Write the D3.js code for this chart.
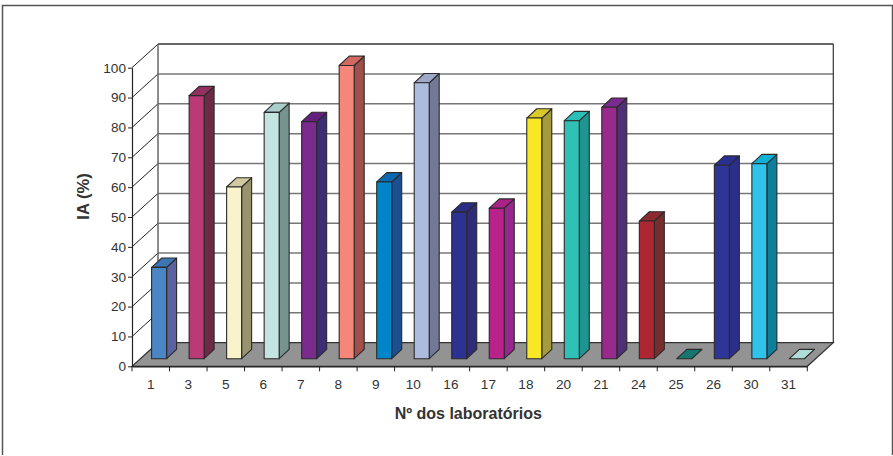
<!DOCTYPE html>
<html>
<head>
<meta charset="utf-8">
<script src="https://cdn.jsdelivr.net/npm/d3@7"></script>
<style>
html, body { margin: 0; padding: 0; background: #fff; }
svg { display: block; }
text { font-family: "Liberation Sans", Arial, sans-serif; fill: #333; }
</style>
</head>
<body>
<div id="demo"></div>
<script>
var labs = ['1','3','5','6','7','8','9','10','16','17','18','20','21','24','25','26','30','31'];
var iaValues = [30.6,88.1,57.5,82.5,79.4,98.2,59.2,92.4,49.1,50.4,80.6,79.7,84.2,46.1,0,64.8,65.3,0];
var yTicks = [0,10,20,30,40,50,60,70,80,90,100];

var frontColors = ['#4a86c6','#b93a75','#f9f3cb','#c3e4e1','#7b2a8e','#f6857a','#0085c8','#adbcdc','#2d3191','#b9218b','#f9e726','#2fc0b6','#982a8e','#ae2631','#16756f','#2d3696','#2fc2ea','#b0dcd8'];
var sideColors = ['#5a62a0','#6c2b45','#98926f','#76938f','#3c2d75','#a14f4b','#1b4f8f','#727996','#2f2d7a','#96278f','#a39b3c','#1e9590','#512f78','#772d30','#16756f','#2c2e8c','#0c7f9c','#b0dcd8'];
var topColors = ['#3f74b5','#94305f','#d1c99f','#a8cfcb','#662180','#d2685f','#0a68b0','#a0a8c8','#2b2d85','#a82288','#d9c92a','#2abfb8','#7a2a90','#8c2a30','#16756f','#2a3092','#0fb0d4','#b0dcd8'];

var wallDx = 26, wallDy = 23.6;   // profundidade do grafico
var barDx = 10, barDy = 9.3;      // profundidade da barra
var barOffX = 19.6, barOffY = 7.6;
var barW = 15;

var xScale = d3.scaleBand().domain(labs).range([132, 807.3]);
var yScale = d3.scaleLinear().domain([0, 100]).range([366.3, 67.7]);

var svg = d3.select('#demo').append('svg')
	.attr('width', 893)
	.attr('height', 456);

// moldura
svg.append('path')
	.attr('d', 'M2.5,455V5.5H892.5V455')
	.attr('fill', 'none')
	.attr('stroke', '#555')
	.attr('stroke-width', 1.5);

var x0 = xScale.range()[0], x1 = xScale.range()[1];
var y0 = yScale(0);

// linhas de grade
var grid = yTicks.filter(function(d) { return d > 0; });
svg.selectAll('.grid')
	.data(grid)
	.enter()
	.append('line')
	.attr('x1', x0 + wallDx)
	.attr('x2', x1 + wallDx)
	.attr('y1', function(d) { return yScale(d) - wallDy; })
	.attr('y2', function(d) { return yScale(d) - wallDy; })
	.attr('stroke', function(d) { return d == 100 ? '#333' : '#777'; })
	.attr('stroke-width', 1.5);

svg.selectAll('.side')
	.data(grid)
	.enter()
	.append('line')
	.attr('x1', x0)
	.attr('x2', x0 + wallDx)
	.attr('y1', function(d) { return yScale(d); })
	.attr('y2', function(d) { return yScale(d) - wallDy; })
	.attr('stroke', '#222')
	.attr('stroke-width', 1);

// paredes
svg.append('line')
	.attr('x1', x0 + wallDx).attr('x2', x0 + wallDx)
	.attr('y1', yScale(100) - wallDy).attr('y2', y0 - wallDy)
	.attr('stroke', '#666').attr('stroke-width', 1.5);
svg.append('line')
	.attr('x1', x1 + wallDx).attr('x2', x1 + wallDx)
	.attr('y1', yScale(100) - wallDy).attr('y2', y0 - wallDy)
	.attr('stroke', '#333').attr('stroke-width', 1.2);

// chao
svg.append('polygon')
	.attr('points', [[x0, y0], [x1, y0], [x1 + wallDx, y0 - wallDy], [x0 + wallDx, y0 - wallDy]].join(' '))
	.attr('fill', '#939393')
	.attr('stroke', '#333')
	.attr('stroke-width', 1.2);

// barras
var bars = svg.selectAll('.bar')
	.data(labs)
	.enter()
	.append('g')
	.attr('class', 'bar');

function left(d) { return xScale(d) + barOffX; }
function base() { return y0 - barOffY; }
function top_(d, i) { return yScale(iaValues[i]) - barOffY; }

bars.append('polygon')
	.attr('points', function(d, i) {
		var l = left(d) + barW, t = top_(d, i), b = base();
		return [[l, t], [l + barDx, t - barDy], [l + barDx, b - barDy], [l, b]].join(' ');
	})
	.attr('fill', function(d, i) { return sideColors[i]; });

bars.append('polygon')
	.attr('points', function(d, i) {
		var l = left(d), t = top_(d, i);
		return [[l, t], [l + barDx, t - barDy], [l + barW + barDx, t - barDy], [l + barW, t]].join(' ');
	})
	.attr('fill', function(d, i) { return topColors[i]; });

bars.append('rect')
	.attr('x', left)
	.attr('y', top_)
	.attr('width', barW)
	.attr('height', function(d, i) { return base() - top_(d, i); })
	.attr('fill', function(d, i) { return frontColors[i]; });

bars.selectAll('polygon, rect')
	.attr('stroke', '#2a2a2a')
	.attr('stroke-width', 1.1)
	.attr('stroke-linejoin', 'round');

// eixo y
var yAxis = svg.append('g')
	.attr('transform', 'translate(' + x0 + ',0)')
	.call(d3.axisLeft(yScale).tickValues(yTicks).tickSize(4).tickPadding(2).tickSizeOuter(0));
yAxis.select('.domain').attr('stroke', '#222').attr('stroke-width', 1.2);
yAxis.selectAll('line').attr('stroke', '#222');
yAxis.selectAll('text').attr('font-size', 13.6).style('font-family', '"Liberation Sans"').attr('fill', '#333');

// eixo x
var xAxis = svg.append('g')
	.attr('transform', 'translate(0,' + y0 + ')')
	.call(d3.axisBottom(xScale).tickSize(0).tickPadding(13));
xAxis.select('.domain').attr('stroke', '#222').attr('stroke-width', 1.2);
xAxis.selectAll('text').attr('font-size', 13.6).style('font-family', '"Liberation Sans"').attr('fill', '#333');

svg.selectAll('.xtick')
	.data(labs.map(function(d) { return xScale(d); }).concat([x1]))
	.enter()
	.append('line')
	.attr('x1', function(d) { return d; })
	.attr('x2', function(d) { return d; })
	.attr('y1', y0)
	.attr('y2', y0 + 5)
	.attr('stroke', '#222');

// titulos
svg.append('text')
	.attr('x', 468.3).attr('y', 419)
	.attr('text-anchor', 'middle')
	.attr('font-size', 16)
	.attr('font-weight', 'bold')
	.text('Nº dos laboratórios');

svg.append('text')
	.attr('transform', 'translate(88.5,196.5) rotate(-90)')
	.attr('text-anchor', 'middle')
	.attr('font-size', 16.6)
	.attr('font-weight', 'bold')
	.text('IA (%)');
</script>
</body>
</html>
